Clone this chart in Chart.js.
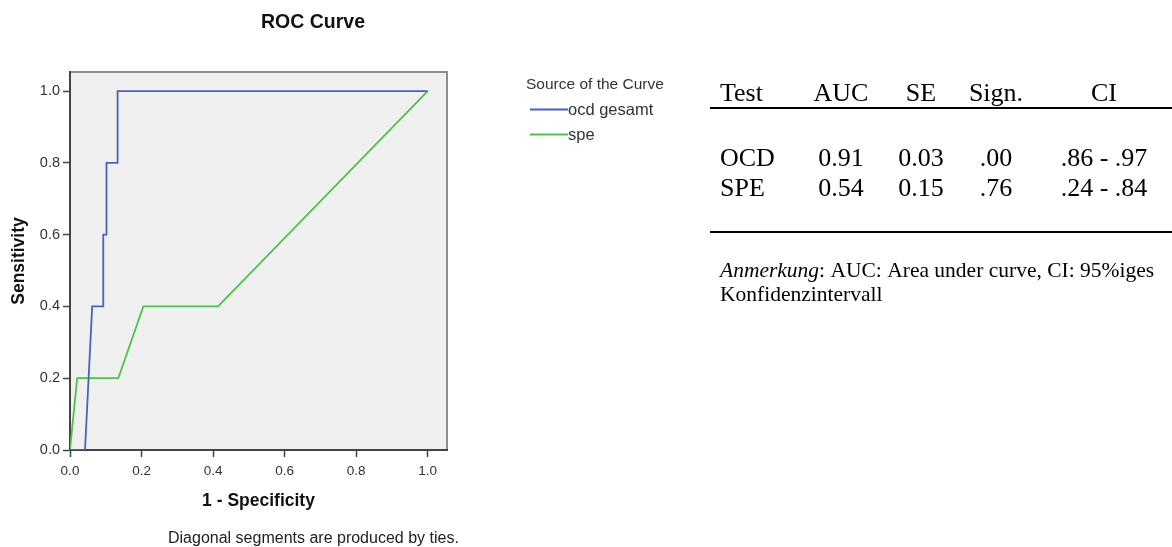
<!DOCTYPE html>
<html>
<head>
<meta charset="utf-8">
<title>ROC Curve</title>
<script src="https://cdn.jsdelivr.net/npm/chart.js@4.4.1/dist/chart.umd.min.js"></script>
<style>
  body { margin: 0; background: #fff; }
  #roc { position: absolute; left: 0; top: 0; }
</style>
</head>
<body>
<canvas id="roc" width="1172" height="547"></canvas>
<script>
// ROC points: x = 1 - specificity, y = sensitivity
const ocdX = [0, 0.042, 0.062, 0.093, 0.093, 0.102, 0.102, 0.133, 0.133, 1.0];
const ocdY = [0, 0, 0.4, 0.4, 0.6, 0.6, 0.8, 0.8, 1.0, 1.0];
const speX = [0, 0.020, 0.135, 0.205, 0.414, 1.0];
const speY = [0, 0.2, 0.2, 0.4, 0.4, 1.0];
const curveNames = ['ocd gesamt', 'spe'];
const tickValues = [0, 0.2, 0.4, 0.6, 0.8, 1.0];

// summary table to the right of the plot
const tableHead = ['Test', 'AUC', 'SE', 'Sign.', 'CI'];
const tableRows = [
  ['OCD', '0.91', '0.03', '.00', '.86 - .97'],
  ['SPE', '0.54', '0.15', '.76', '.24 - .84']
];
const noteLabel = 'Anmerkung';
const noteLines = [': AUC: Area under curve, CI: 95%iges', 'Konfidenzintervall'];

const sans = "'Liberation Sans', Arial, sans-serif";
const serif = "'Liberation Serif', 'Times New Roman', serif";
Chart.defaults.font.family = sans;

const toPoints = (xs, ys) => xs.map((x, i) => ({ x: x, y: ys[i] }));

// grey plot box, chart title, legend, footnote and the table
const extras = {
  id: 'extras',
  beforeDraw(chart) {
    const { ctx, chartArea: a } = chart;
    ctx.save();
    ctx.fillStyle = '#f0f0f0';
    ctx.fillRect(a.left, a.top, a.right - a.left, a.bottom - a.top);
    ctx.strokeStyle = '#8e8e8e';
    ctx.lineWidth = 2;
    ctx.beginPath();
    ctx.moveTo(a.left, a.top);
    ctx.lineTo(a.right, a.top);
    ctx.lineTo(a.right, a.bottom);
    ctx.stroke();
    ctx.restore();
  },
  afterDraw(chart) {
    const ctx = chart.ctx;
    ctx.save();
    ctx.fillStyle = '#111';
    ctx.textAlign = 'center';
    ctx.textBaseline = 'middle';
    ctx.font = 'bold 19.5px ' + sans;
    ctx.fillText('ROC Curve', 313, 22.5);

    ctx.textAlign = 'left';
    ctx.fillStyle = '#222';
    ctx.font = '16px ' + sans;
    ctx.fillText('Diagonal segments are produced by ties.', 168, 539);

    // legend
    ctx.fillStyle = '#333';
    ctx.font = '15.5px ' + sans;
    ctx.fillText('Source of the Curve', 526, 85);
    ctx.font = '16.5px ' + sans;
    chart.data.datasets.forEach((ds, i) => {
      const y = 109.5 + i * 25;
      ctx.strokeStyle = ds.borderColor;
      ctx.lineWidth = 1.8;
      ctx.beginPath();
      ctx.moveTo(530, y);
      ctx.lineTo(568, y);
      ctx.stroke();
      ctx.fillText(ds.label, 568, y + 1);
    });

    // table
    const colX = [720, 841, 921, 996, 1104];
    ctx.fillStyle = '#000';
    ctx.textBaseline = 'alphabetic';
    ctx.font = '26px ' + serif;
    tableHead.forEach((h, c) => {
      ctx.textAlign = c === 0 ? 'left' : 'center';
      ctx.fillText(h, colX[c], 101);
    });
    tableRows.forEach((row, r) => {
      row.forEach((v, c) => {
        ctx.textAlign = c === 0 ? 'left' : 'center';
        ctx.fillText(v, colX[c], 165.5 + r * 30);
      });
    });
    ctx.fillRect(710, 107, 462, 2);
    ctx.fillRect(710, 231, 462, 2);

    ctx.textAlign = 'left';
    ctx.font = 'italic 21.5px ' + serif;
    ctx.fillText(noteLabel, 720, 276.5);
    const w = ctx.measureText(noteLabel).width;
    ctx.font = '21.5px ' + serif;
    ctx.fillText(noteLines[0], 720 + w, 276.5);
    ctx.fillText(noteLines[1], 720, 300.5);
    ctx.restore();
  }
};

const axisTicks = (scale) => {
  scale.ticks = tickValues.map(v => ({ value: v }));
};

new Chart(document.getElementById('roc'), {
  type: 'line',
  data: {
    datasets: [
      {
        label: curveNames[0],
        data: toPoints(ocdX, ocdY),
        borderColor: '#4764b8',
        borderWidth: 1.8,
        pointRadius: 0,
        tension: 0
      },
      {
        label: curveNames[1],
        data: toPoints(speX, speY),
        borderColor: '#4cc14c',
        borderWidth: 1.8,
        pointRadius: 0,
        tension: 0
      }
    ]
  },
  options: {
    responsive: false,
    animation: false,
    layout: { padding: { left: 0, top: 72, right: 725, bottom: 27 } },
    plugins: {
      legend: { display: false },
      title: { display: false },
      tooltip: { enabled: false }
    },
    scales: {
      x: {
        type: 'linear',
        min: 0,
        max: 1.054,
        afterBuildTicks: axisTicks,
        afterFit: (s) => { s.height = 70; },
        border: { color: '#444', width: 2 },
        grid: { drawOnChartArea: false, tickLength: 7, tickColor: '#444', tickWidth: 1.5 },
        ticks: {
          padding: 6,
          color: '#333',
          font: { size: 13.5 },
          maxRotation: 0,
          callback: (v) => v.toFixed(1)
        },
        title: {
          display: true,
          text: '1 - Specificity',
          color: '#111',
          font: { size: 17.5, weight: 'bold' },
          padding: { top: 0, bottom: 8.5 }
        }
      },
      y: {
        min: 0,
        max: 1.053,
        afterBuildTicks: axisTicks,
        afterFit: (s) => { s.width = 70; },
        border: { color: '#444', width: 2 },
        grid: { drawOnChartArea: false, tickLength: 7, tickColor: '#444', tickWidth: 1.5 },
        ticks: {
          padding: 3,
          color: '#333',
          font: { size: 14.5 },
          callback: (v) => v.toFixed(1)
        },
        title: {
          display: true,
          text: 'Sensitivity',
          color: '#111',
          font: { size: 17.5, weight: 'bold' },
          padding: { top: 8.5, bottom: 0 }
        }
      }
    }
  },
  plugins: [extras]
});
</script>
</body>
</html>
